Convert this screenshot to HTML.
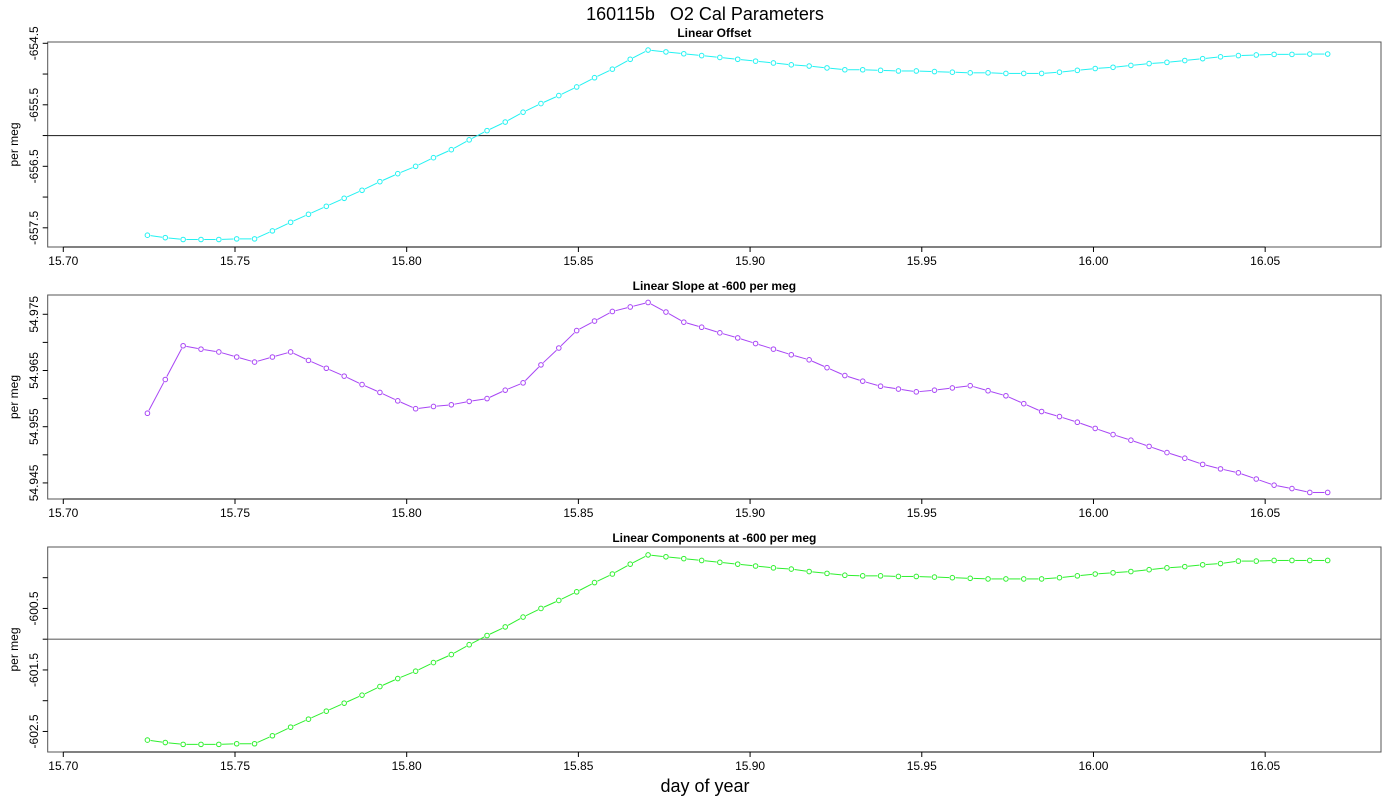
<!DOCTYPE html>
<html><head><meta charset="utf-8"><title>160115b O2 Cal Parameters</title>
<style>html,body{margin:0;padding:0;background:#fff}svg{display:block;font-family:"Liberation Sans",sans-serif}</style>
</head><body>
<svg id="chart" width="1400" height="800" viewBox="0 0 1400 800" xmlns="http://www.w3.org/2000/svg">
<text x="705" y="20" font-size="18" text-anchor="middle" xml:space="preserve" style="white-space:pre">160115b   O2 Cal Parameters</text>
<text x="705" y="792" font-size="18" text-anchor="middle">day of year</text>
</svg>
<script>
const times = [15.7245,15.7297,15.7349,15.7401,15.7453,15.7505,15.7557,15.7609,15.7662,15.7714,15.7766,15.7818,15.7870,15.7922,15.7974,15.8026,15.8078,15.8130,15.8182,15.8234,15.8287,15.8339,15.8391,15.8443,15.8495,15.8547,15.8599,15.8651,15.8703,15.8755,15.8807,15.8859,15.8912,15.8964,15.9016,15.9068,15.9120,15.9172,15.9224,15.9276,15.9328,15.9380,15.9432,15.9484,15.9537,15.9589,15.9641,15.9693,15.9745,15.9797,15.9849,15.9901,15.9953,16.0005,16.0057,16.0109,16.0162,16.0214,16.0266,16.0318,16.0370,16.0422,16.0474,16.0526,16.0578,16.0630,16.0682];
const offsetValues = [-657.62,-657.66,-657.69,-657.69,-657.69,-657.68,-657.68,-657.55,-657.41,-657.28,-657.15,-657.02,-656.89,-656.75,-656.62,-656.50,-656.36,-656.23,-656.07,-655.92,-655.78,-655.62,-655.48,-655.35,-655.21,-655.06,-654.92,-654.76,-654.61,-654.64,-654.67,-654.70,-654.73,-654.76,-654.79,-654.82,-654.85,-654.87,-654.90,-654.93,-654.93,-654.94,-654.95,-654.95,-654.96,-654.97,-654.98,-654.98,-654.99,-654.99,-654.99,-654.97,-654.94,-654.91,-654.89,-654.86,-654.83,-654.81,-654.78,-654.75,-654.72,-654.70,-654.69,-654.68,-654.68,-654.675,-654.675];
const slopeValues = [54.9574,54.9634,54.9694,54.9688,54.9683,54.9674,54.9665,54.9674,54.9683,54.9668,54.9654,54.9640,54.9625,54.9611,54.9596,54.9582,54.9586,54.9589,54.9595,54.9600,54.9615,54.9628,54.9660,54.9690,54.9721,54.9738,54.9755,54.9763,54.9771,54.9754,54.9736,54.9727,54.9717,54.9708,54.9698,54.9688,54.9678,54.9669,54.9655,54.9641,54.9631,54.9622,54.9617,54.9612,54.9615,54.9619,54.9623,54.9614,54.9605,54.9591,54.9577,54.9568,54.9558,54.9547,54.9536,54.9526,54.9515,54.9504,54.9494,54.9483,54.9475,54.9468,54.9457,54.9446,54.9440,54.9433,54.9433];
const componentValues = [-602.64,-602.68,-602.71,-602.71,-602.71,-602.70,-602.70,-602.57,-602.43,-602.30,-602.17,-602.04,-601.91,-601.77,-601.64,-601.52,-601.38,-601.25,-601.09,-600.94,-600.80,-600.64,-600.50,-600.37,-600.23,-600.08,-599.94,-599.78,-599.63,-599.66,-599.69,-599.72,-599.75,-599.78,-599.81,-599.84,-599.86,-599.90,-599.93,-599.96,-599.97,-599.97,-599.98,-599.98,-599.99,-600.00,-600.01,-600.02,-600.02,-600.02,-600.02,-600.00,-599.97,-599.94,-599.92,-599.90,-599.87,-599.84,-599.82,-599.79,-599.77,-599.73,-599.73,-599.72,-599.72,-599.72,-599.72];
const xTicks = [15.70,15.75,15.80,15.85,15.90,15.95,16.00,16.05];
const xTickLabels = ["15.70","15.75","15.80","15.85","15.90","15.95","16.00","16.05"];
const offsetTicks = [-654.5,-655,-655.5,-656,-656.5,-657,-657.5];
const offsetTickLabels = ["-654.5","","-655.5","","-656.5","","-657.5"];
const slopeTicks = [54.975,54.970,54.965,54.960,54.955,54.950,54.945];
const slopeTickLabels = ["54.975","","54.965","","54.955","","54.945"];
const compTicks = [-600,-600.5,-601,-601.5,-602,-602.5];
const compTickLabels = ["","-600.5","","-601.5","","-602.5"];

const NS = "http://www.w3.org/2000/svg";
const svg = document.getElementById('chart');
const L = 47.7, R = 1381;
const xMin = 15.69546, xMax = 16.08373;
function xScale(t){ return L + (t - xMin) / (xMax - xMin) * (R - L); }
function mk(tag, attrs, parent){ const e = document.createElementNS(NS, tag); for (const k in attrs) e.setAttribute(k, attrs[k]); (parent||svg).appendChild(e); return e; }

const panels = [
 {name:'linear-offset', title:'Linear Offset', top:42, bottom:247, yTop:-654.479, yBot:-657.812, vals:offsetValues, ticks:offsetTicks, labels:offsetTickLabels, color:'#22f2f2', ref:-656, refColor:'#333'},
 {name:'linear-slope', title:'Linear Slope at -600 per meg', top:295, bottom:499, yTop:54.97843, yBot:54.94214, vals:slopeValues, ticks:slopeTicks, labels:slopeTickLabels, color:'#a845f5', ref:null},
 {name:'linear-components', title:'Linear Components at -600 per meg', top:547, bottom:752, yTop:-599.501, yBot:-602.834, vals:componentValues, ticks:compTicks, labels:compTickLabels, color:'#2ef02e', ref:-601, refColor:'#666'}
];

panels.forEach(p => {
  const g = mk('g', {});
  
  
  const yScale = v => p.top + (p.yTop - v) / (p.yTop - p.yBot) * (p.bottom - p.top);
  const frame = mk('rect', {x:L, y:p.top, width:R-L, height:p.bottom-p.top, fill:'none', stroke:'#555', 'stroke-width':1}, g);
  
  
  const title = mk('text', {x:(L+R)/2, y:p.top-5, 'font-size':12, 'font-weight':'bold', 'text-anchor':'middle'}, g);
  title.textContent = p.title;
  
  
  const yl = mk('text', {x:0, y:0, 'font-size':12, 'text-anchor':'middle', transform:`translate(18,${(p.top+p.bottom)/2}) rotate(-90)`}, g);
  yl.textContent = 'per meg';
  
  
  const xa = mk('line', {x1:xScale(xTicks[0]), x2:xScale(xTicks[xTicks.length-1]), y1:p.bottom, y2:p.bottom, stroke:'#000', 'stroke-width':1}, g);
  
  
  xTicks.forEach((t,i) => {
    const x = xScale(t);
    const tk = mk('line', {x1:x, x2:x, y1:p.bottom, y2:p.bottom+5, stroke:'#000'}, g);
    
    
    const tl = mk('text', {x:x, y:p.bottom+18, 'font-size':12, 'text-anchor':'middle'}, g);
    tl.textContent = xTickLabels[i];
    
    
  });
  p.ticks.forEach((v,i) => {
    const y = yScale(v);
    const tk = mk('line', {x1:L-5, x2:L, y1:y, y2:y, stroke:'#000'}, g);
    
    
    if (p.labels[i]) {
      const tl = mk('text', {x:0, y:0, 'font-size':12, 'text-anchor':'middle', transform:`translate(38,${y}) rotate(-90)`}, g);
      tl.textContent = p.labels[i];
      
      
    }
  });
  if (p.ref !== null) {
    const rl = mk('line', {x1:L, x2:R, y1:yScale(p.ref), y2:yScale(p.ref), stroke:p.refColor, 'stroke-width':1.2}, g);
    
    
  }
  const pts = times.map((t,i) => [xScale(t), yScale(p.vals[i])]);
  for (let i = 0; i < pts.length - 1; i++) {
    const [x1,y1] = pts[i], [x2,y2] = pts[i+1];
    const dx = x2-x1, dy = y2-y1, d = Math.hypot(dx,dy);
    if (d < 7) continue;
    const gap = 3.2;
    const seg = mk('line', {x1:x1+dx/d*gap, y1:y1+dy/d*gap, x2:x2-dx/d*gap, y2:y2-dy/d*gap, stroke:p.color, 'stroke-width':1}, g);
    
    
  }
  pts.forEach(([x,y]) => {
    const c = mk('circle', {cx:x, cy:y, r:2.3, fill:'none', stroke:p.color, 'stroke-width':1}, g);
    
    
  });
});
</script>
</body></html>
